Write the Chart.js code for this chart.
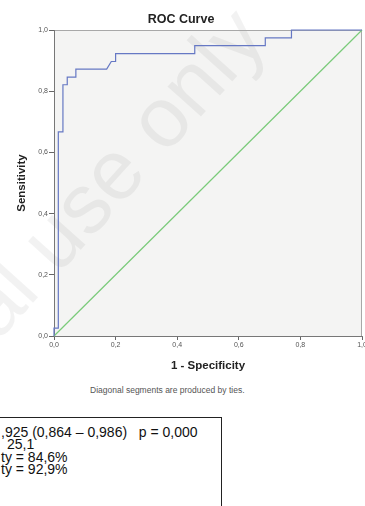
<!DOCTYPE html>
<html>
<head>
<meta charset="utf-8">
<script src="https://cdn.jsdelivr.net/npm/chart.js@4/dist/chart.umd.min.js"></script>
<style>
  html, body { margin: 0; padding: 0; background: #fff; overflow: hidden; }
  #wrap { position: relative; width: 365px; height: 506px; overflow: hidden; }
  #chartBox { position: absolute; left: 0; top: 0; width: 365px; height: 380px; }
  #note { position: absolute; left: 90px; top: 385px; font: 8.5px "Liberation Sans", Arial, sans-serif; color: #555; white-space: nowrap; }
  #stats { position: absolute; left: -3px; top: 417px; width: 225px; height: 120px; box-sizing: border-box;
           border: 1px solid #222; padding: 8px 0 0 3px; font: 14px "Liberation Sans", Arial, sans-serif;
           line-height: 12.3px; color: #111; white-space: pre; }
</style>
</head>
<body>
<div id="wrap">
  <div id="chartBox"><canvas id="roc"></canvas></div>
  <div id="note">Diagonal segments are produced by ties.</div>
  <div id="stats"><div>,925 (0,864 – 0,986)   p = 0,000</div><div style="padding-left:6px">25,1</div><div>ty = 84,6%</div><div>ty = 92,9%</div></div>
</div>
<script>
// ROC curve points (1 - specificity, sensitivity)
const fpr = [0, 0, 0.014, 0.014, 0.029, 0.029, 0.043, 0.043, 0.071, 0.071, 0.171, 0.186, 0.2, 0.2, 0.457, 0.457, 0.686, 0.686, 0.771, 0.771, 1];
const tpr = [0, 0.026, 0.026, 0.667, 0.667, 0.821, 0.821, 0.846, 0.846, 0.872, 0.872, 0.897, 0.897, 0.923, 0.923, 0.949, 0.949, 0.974, 0.974, 1, 1];

// reference line
const diagX = [0, 1];
const diagY = [0, 1];

const tickFont = { family: 'Liberation Sans', size: 7 };
const titleFont = { family: 'Liberation Sans', size: 12.5, weight: 'bold' };
const axisTitleFont = { family: 'Liberation Sans', size: 11.5, weight: 'bold' };

function commaLabel(value) {
    return Number(value).toFixed(1).replace('.', ',');
}

// plot background, watermark and light top/right frame
const plotBackground = {
    id: 'plotBackground',
    beforeDraw(chart) {
        const { ctx, chartArea: a } = chart;
        ctx.save();
        ctx.fillStyle = '#f4f4f3';
        ctx.fillRect(a.left, a.top, a.right - a.left, a.bottom - a.top);

        ctx.translate(42, 293);
        ctx.rotate(-48 * Math.PI / 180);
        ctx.font = '85px "Liberation Sans"';
        ctx.fillStyle = 'rgba(0,0,0,0.05)';
        ctx.textAlign = 'right';
        ctx.fillText('For personal', 0, 0);
        ctx.textAlign = 'left';
        ctx.fillText(' use only', 0, 0);
        ctx.restore();

        ctx.save();
        ctx.strokeStyle = '#a8a8a8';
        ctx.lineWidth = 1;
        ctx.beginPath();
        ctx.moveTo(a.left, a.top + 0.5);
        ctx.lineTo(a.right - 0.5, a.top + 0.5);
        ctx.lineTo(a.right - 0.5, a.bottom);
        ctx.stroke();
        ctx.restore();
    }
};

const ctx = document.getElementById('roc').getContext('2d');

new Chart(ctx, {
    type: 'scatter',
    data: {
        datasets: [
            {
                data: fpr.map((x, i) => ({ x: x, y: tpr[i] })),
                showLine: true,
                borderColor: '#6678c4',
                borderWidth: 1.2,
                pointRadius: 0,
                clip: false
            },
            {
                data: diagX.map((x, i) => ({ x: x, y: diagY[i] })),
                showLine: true,
                borderColor: '#7acb7a',
                borderWidth: 1.2,
                pointRadius: 0,
                clip: false
            }
        ]
    },
    options: {
        responsive: true,
        maintainAspectRatio: false,
        animation: false,
        layout: {
            autoPadding: false,
            padding: { left: 0, right: 3, top: 0, bottom: 4 }
        },
        plugins: {
            legend: { display: false },
            tooltip: { enabled: false },
            title: {
                display: true,
                text: 'ROC Curve',
                font: titleFont,
                color: '#222',
                padding: { top: 12, bottom: 3 }
            }
        },
        scales: {
            x: {
                type: 'linear',
                min: 0,
                max: 1,
                afterFit(scale) {
                    scale.height = 40;
                    scale.paddingLeft = 0;
                    scale.paddingRight = 0;
                },
                border: { display: true, color: '#777', width: 1 },
                grid: { drawOnChartArea: false, drawTicks: true, tickLength: 4, color: '#666' },
                ticks: {
                    stepSize: 0.2,
                    autoSkip: false,
                    maxRotation: 0,
                    padding: 1,
                    font: tickFont,
                    color: '#555',
                    callback: commaLabel
                },
                title: {
                    display: true,
                    text: '1 - Specificity',
                    font: axisTitleFont,
                    color: '#222',
                    padding: { top: 4, bottom: 3 }
                }
            },
            y: {
                type: 'linear',
                min: 0,
                max: 1,
                afterFit(scale) {
                    scale.width = 54;
                    scale.paddingTop = 0;
                    scale.paddingBottom = 0;
                },
                border: { display: true, color: '#777', width: 1 },
                grid: { drawOnChartArea: false, drawTicks: true, tickLength: 5, color: '#666' },
                ticks: {
                    stepSize: 0.2,
                    autoSkip: false,
                    padding: 1,
                    font: tickFont,
                    color: '#555',
                    callback: commaLabel
                },
                title: {
                    display: true,
                    text: 'Sensitivity',
                    font: axisTitleFont,
                    color: '#222',
                    padding: { top: 15, bottom: 0 }
                }
            }
        }
    },
    plugins: [plotBackground]
});
</script>
</body>
</html>
